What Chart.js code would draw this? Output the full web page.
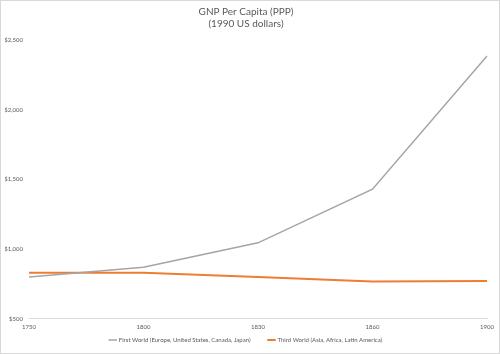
<!DOCTYPE html>
<html>
<head>
<meta charset="utf-8">
<script src="https://cdn.jsdelivr.net/npm/chart.js"></script>
<style>
  html, body { margin: 0; padding: 0; background: #fff; }
  #wrap { position: relative; width: 498px; height: 352px; border: 1px solid #d9d9d9; }
</style>
</head>
<body>
<div id="wrap"><canvas id="gnp"></canvas></div>
<script>
// GNP per capita, 1990 US dollars
const years = ["1750", "1800", "1830", "1860", "1900"];
const firstWorld = [800, 870, 1045, 1430, 2385];
const thirdWorld = [830, 830, 800, 768, 772];
const firstLabel = "First World (Europe, United States, Canada, Japan)";
const thirdLabel = "Third World (Asia, Africa, Latin America)";
const yTicks = [500, 1000, 1500, 2000, 2500];

const textGray = "#595959";
Chart.defaults.font.family = "Lato, 'Open Sans', sans-serif";
Chart.defaults.color = textGray;

// keep the legend short so the plot gets the room, then nudge it up
const legendFit = {
    id: "legendFit",
    afterInit(chart) {
        const legend = chart.legend;
        const fit = legend.fit;
        legend.fit = function() {
            fit.call(this);
            this.height = 17;
        };
    },
    afterLayout(chart) {
        chart.legend.top -= 17;
    }
};

const ctx = document.getElementById("gnp").getContext("2d");

new Chart(ctx, {
    type: "line",
    data: {
        labels: years,
        datasets: [{
            label: firstLabel,
            data: firstWorld,
            borderColor: "#a5a5a5",
            backgroundColor: "#a5a5a5",
            borderWidth: 1.5,
            pointRadius: 0,
            tension: 0
        }, {
            label: thirdLabel,
            data: thirdWorld,
            borderColor: "#ed7d31",
            backgroundColor: "#ed7d31",
            borderWidth: 2,
            pointRadius: 0,
            tension: 0
        }]
    },
    options: {
        responsive: true,
        maintainAspectRatio: false,
        animation: false,
        layout: {
            padding: { left: 4, right: 12, top: 3, bottom: 0 }
        },
        scales: {
            x: {
                offset: false,
                grid: { display: false, drawTicks: false },
                border: { color: "#d9d9d9", width: 1 },
                ticks: { font: { size: 6 }, color: textGray, padding: 5, maxRotation: 0 }
            },
            y: {
                min: 500,
                max: 2500,
                afterBuildTicks: function(scale) {
                    scale.ticks = yTicks.map(v => ({ value: v }));
                },
                afterFit: function(scale) { scale.width = 24; },
                grid: { display: false, drawTicks: false },
                border: { display: false },
                ticks: {
                    font: { size: 6 },
                    color: textGray,
                    padding: 6,
                    callback: v => "$" + v.toLocaleString("en-US")
                }
            }
        },
        plugins: {
            title: {
                display: true,
                text: ["GNP Per Capita (PPP)", "(1990 US dollars)"],
                font: { size: 10, weight: "normal" },
                color: textGray,
                padding: { top: 2, bottom: 10 },
                lineHeight: 1.55
            },
            legend: {
                position: "bottom",
                labels: {
                    usePointStyle: true,
                    pointStyle: "line",
                    boxWidth: 16,
                    padding: 18,
                    font: { size: 6 },
                    color: textGray
                }
            },
            tooltip: { enabled: false }
        }
    },
    plugins: [legendFit]
});
</script>
</body>
</html>
